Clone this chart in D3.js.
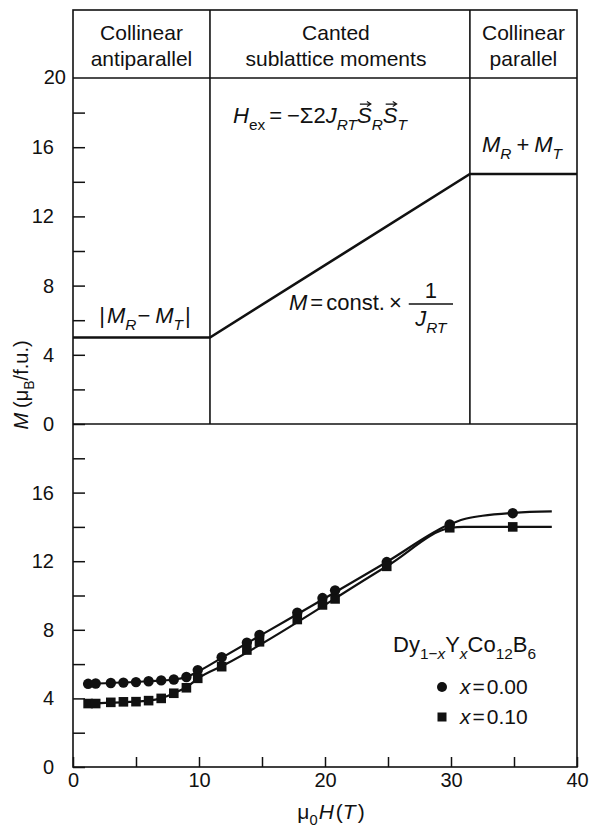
<!DOCTYPE html>
<html><head><meta charset="utf-8">
<script src="https://cdn.jsdelivr.net/npm/d3@7"></script>
<style>body{margin:0;background:#fff}text{font-family:"Liberation Sans",Arial,Helvetica,sans-serif;fill:#111}</style>
</head><body><svg id="c" width="594" height="832"></svg>
<script>
// ---- data ----
const fieldH  = [1.2, 1.8, 3.0, 4.0, 5.0, 6.0, 7.0, 8.0, 9.0, 9.9, 11.8, 13.8, 14.8, 17.8, 19.8, 20.8, 24.9, 29.9, 34.9];
const magX000 = [4.85, 4.87, 4.9, 4.92, 4.95, 5.0, 5.05, 5.1, 5.25, 5.65, 6.4, 7.25, 7.7, 9.0, 9.85, 10.3, 11.95, 14.15, 14.8];
const magX010 = [3.7, 3.7, 3.77, 3.8, 3.81, 3.87, 4.0, 4.3, 4.62, 5.17, 5.85, 6.82, 7.3, 8.6, 9.45, 9.8, 11.7, 13.95, 14.0];
// fitted curves
const fitH000 = [1.0, 6, 8, 9, 10, 12, 25, 29.9, 31, 32.5, 35, 38];
const fitM000 = [4.85, 5.0, 5.1, 5.25, 5.6, 6.45, 12.0, 14.15, 14.45, 14.65, 14.82, 14.9];
const fitH010 = [1.0, 6, 7, 8, 9, 10, 12, 25, 30, 31, 33, 38];
const fitM010 = [3.7, 3.87, 4.0, 4.3, 4.65, 5.2, 5.95, 11.75, 13.95, 14.0, 14.0, 14.0];
const schemeH = [0, 10.87, 31.5, 40];
const schemeM = [5, 5, 14.45, 14.45];
const phaseBounds = [10.87, 31.5];
const headerLines = [["Collinear", "antiparallel"], ["Canted", "sublattice moments"], ["Collinear", "parallel"]];
const xTicks = [0, 5, 10, 15, 20, 25, 30, 35, 40];
const xTickLabels = [0, 10, 20, 30, 40];
const yTicks = [0, 2, 4, 6, 8, 10, 12, 14, 16, 18];
const yLabelsTop = [0, 4, 8, 12, 16, 20];
const yLabelsBottom = [0, 4, 8, 12, 16];
const legendLabels = ["x=0.00", "x=0.10"];

// ---- layout ----
const L = 73, R = 577, TOP = 10;
const x = d3.scaleLinear([0, 40], [L, R]);
const yTop = d3.scaleLinear([0, 20], [424, 78]);
const yBot = d3.scaleLinear([0, 20], [767, 424]);
const svg = d3.select("#c");
const FS = 19;

function rich(sel, px, py, parts, size, anchor, rotate) {
  const g = sel.append("g");
  let cx = 0;
  parts.forEach(p => {
    cx += (p.pre || 0);
    const fs = p.sub ? size * 0.7 : size;
    const t = g.append("text").attr("x", cx).attr("y", p.sub ? size * 0.3 : 0)
      .attr("font-size", fs).attr("font-style", p.i ? "italic" : "normal").text(p.t);
    const w = t.node().getComputedTextLength();
    if (p.arrow) {
      const ax0 = cx + w * 0.2, ax1 = cx + w * 0.95, ay = -size * 0.86;
      g.append("path").attr("d", `M${ax0},${ay}H${ax1}M${ax1 - 4},${ay - 2.5}L${ax1},${ay}L${ax1 - 4},${ay + 2.5}`)
        .attr("fill", "none").attr("stroke", "#111").attr("stroke-width", 1.1);
    }
    cx += w + (p.post || 0);
  });
  const shift = anchor === "middle" ? -cx / 2 : anchor === "end" ? -cx : 0;
  g.selectAll("text").attr("x", function () { return +d3.select(this).attr("x") + shift; });
  g.selectAll("path").attr("transform", `translate(${shift},0)`);
  g.attr("transform", `translate(${px},${py})` + (rotate ? ` rotate(${rotate})` : ""));
  return g;
}

// ---- frame ----
const frame = svg.append("g").attr("stroke", "#111").attr("stroke-width", 1.6).attr("fill", "none");
frame.append("rect").attr("x", L).attr("y", TOP).attr("width", R - L).attr("height", yBot(0) - TOP);
frame.append("line").attr("x1", L).attr("x2", R).attr("y1", yTop(20)).attr("y2", yTop(20));
frame.append("line").attr("x1", L).attr("x2", R).attr("y1", yTop(0)).attr("y2", yTop(0));
frame.selectAll(".pb").data(phaseBounds).join("line")
  .attr("x1", d => x(d)).attr("x2", d => x(d)).attr("y1", TOP).attr("y2", yTop(0));

// ---- headers ----
const cellEdges = [0, ...phaseBounds, 40];
headerLines.forEach((lines, i) => {
  const cx = (x(cellEdges[i]) + x(cellEdges[i + 1])) / 2 - (i === 1 ? 4 : 0);
  lines.forEach((s, j) => svg.append("text").attr("x", cx).attr("y", 40 + j * 26)
    .attr("text-anchor", "middle").attr("font-size", 21).text(s));
});

// ---- axes ----
function yAxis(scale, labels) {
  const g = svg.append("g").attr("transform", `translate(${L},0)`)
    .call(d3.axisLeft(scale).tickValues(yTicks).tickSize(-12).tickPadding(19)
      .tickFormat(d => labels.includes(d) ? d : ""));
  g.select(".domain").remove();
  g.selectAll(".tick line").attr("stroke", "#111").attr("stroke-width", 1.5);
  g.selectAll(".tick text").attr("font-size", 20).attr("font-family", null).attr("fill", "#111");
  return g;
}
yAxis(yTop, yLabelsTop);
yAxis(yBot, yLabelsBottom);
svg.append("text").attr("x", L - 7).attr("y", yTop(20)).attr("dy", "0.32em")
  .attr("text-anchor", "end").attr("font-size", 20).text(yLabelsTop[yLabelsTop.length - 1]);

const xa = svg.append("g").attr("transform", `translate(0,${yBot(0)})`)
  .call(d3.axisBottom(x).tickValues(xTicks).tickSize(-10).tickPadding(6)
    .tickFormat(d => xTickLabels.includes(d) ? d : ""));
xa.select(".domain").remove();
xa.selectAll(".tick line").attr("stroke", "#111").attr("stroke-width", 1.5);
xa.selectAll(".tick text").attr("font-size", 20).attr("font-family", null).attr("fill", "#111");

// axis titles
rich(svg, 331, 819, [{t: "\u03BC"}, {t: "0", sub: true}, {t: "H", i: true, pre: 1}, {t: "(", pre: 2}, {t: "T", i: true}, {t: ")", pre: 2}], 21, "middle");
rich(svg, 28, 385, [{t: "M", i: true, post: 5}, {t: "(\u03BC"}, {t: "B", sub: true}, {t: "/f.u.)"}], 20, "middle", -90);

// ---- scheme (top panel) ----
svg.append("path").datum(schemeH.map((h, i) => [h, schemeM[i]]))
  .attr("d", d3.line().x(d => x(d[0])).y(d => yTop(d[1])))
  .attr("fill", "none").attr("stroke", "#111").attr("stroke-width", 2.6);

rich(svg, 233, 123, [{t: "H", i: true}, {t: "ex", sub: true, post: 4}, {t: "=", post: 5}, {t: "\u2212\u03A32"}, {t: "J", i: true},
  {t: "RT", sub: true, i: true}, {t: "S", i: true, arrow: true}, {t: "R", sub: true, i: true}, {t: "S", i: true, arrow: true}, {t: "T", sub: true, i: true}], 22, "start");
rich(svg, 522, 152, [{t: "M", i: true}, {t: "R", sub: true, i: true, post: 5}, {t: "+", post: 5}, {t: "M", i: true}, {t: "T", sub: true, i: true}], 22, "middle");
rich(svg, 145, 323, [{t: "|", post: 2}, {t: "M", i: true}, {t: "R", sub: true, i: true, post: 1}, {t: "\u2212", post: 5}, {t: "M", i: true}, {t: "T", sub: true, i: true, post: 2}, {t: "|"}], 22, "middle");
const mc = rich(svg, 289, 310, [{t: "M", i: true, post: 3}, {t: "=", post: 3}, {t: "const.", post: 4}, {t: "\u00D7"}], 22, "start");
const mcW = mc.node().getBBox().width;
const fx0 = 289 + mcW + 7, fx1 = 453;
svg.append("line").attr("x1", fx0).attr("x2", fx1).attr("y1", 304).attr("y2", 304).attr("stroke", "#111").attr("stroke-width", 1.4);
svg.append("text").attr("x", (fx0 + fx1) / 2).attr("y", 298).attr("text-anchor", "middle").attr("font-size", 22).text("1");
rich(svg, (fx0 + fx1) / 2, 326, [{t: "J", i: true}, {t: "RT", sub: true, i: true}], 22, "middle");

// ---- data (bottom panel) ----
const lineGen = d3.line().x(d => x(d[0])).y(d => yBot(d[1])).curve(d3.curveMonotoneX);
const ptsA = fieldH.map((h, i) => [h, magX000[i]]);
const ptsB = fieldH.map((h, i) => [h, magX010[i]]);
svg.append("path").datum(fitH000.map((h, i) => [h, fitM000[i]])).attr("d", lineGen)
  .attr("fill", "none").attr("stroke", "#111").attr("stroke-width", 2.2);
svg.append("path").datum(fitH010.map((h, i) => [h, fitM010[i]])).attr("d", lineGen)
  .attr("fill", "none").attr("stroke", "#111").attr("stroke-width", 2.2);
svg.selectAll(".ca").data(ptsA).join("circle")
  .attr("cx", d => x(d[0])).attr("cy", d => yBot(d[1])).attr("r", 5.2).attr("fill", "#111");
svg.selectAll(".sq").data(ptsB).join("rect")
  .attr("x", d => x(d[0]) - 4.8).attr("y", d => yBot(d[1]) - 4.8).attr("width", 9.6).attr("height", 9.6).attr("fill", "#111");

// ---- legend ----
rich(svg, 393, 652, [{t: "Dy"}, {t: "1\u2212", sub: true}, {t: "x", sub: true, i: true}, {t: "Y"}, {t: "x", sub: true, i: true}, {t: "Co"}, {t: "12", sub: true}, {t: "B"}, {t: "6", sub: true}], 22, "start");
svg.append("circle").attr("cx", 442).attr("cy", 687).attr("r", 5).attr("fill", "#111");
svg.append("rect").attr("x", 442 - 4.5).attr("y", 717 - 4.5).attr("width", 9).attr("height", 9).attr("fill", "#111");
legendLabels.forEach((s, i) => {
  rich(svg, 460, 694 + i * 30, [{t: "x", i: true, post: 2}, {t: "=", post: 2}, {t: s.split("=")[1]}], 21, "start");
});
</script></body></html>
